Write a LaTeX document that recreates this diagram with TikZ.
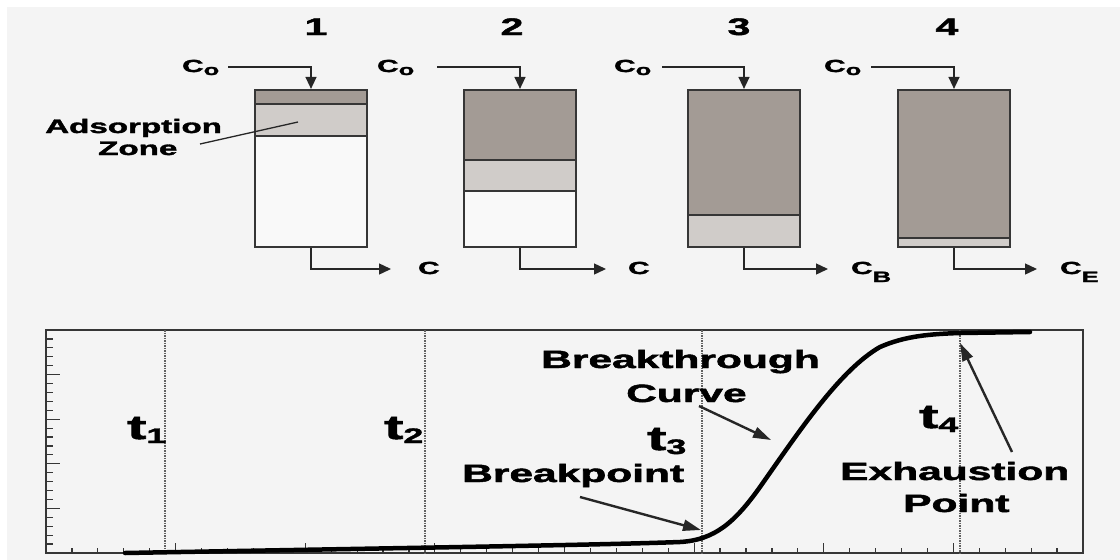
\documentclass[tikz,border=0pt]{standalone}
\usepackage{fontspec}
\setmainfont{Liberation Sans}[BoldFeatures={FakeBold=1.6}]
\usetikzlibrary{arrows.meta}
\definecolor{bgc}{HTML}{F4F4F4}
\definecolor{darkband}{HTML}{A39B95}
\definecolor{lightband}{HTML}{D0CCC9}
\definecolor{boxwhite}{HTML}{F9F9F9}
\definecolor{edge}{HTML}{363636}
\newcommand{\wx}[1]{\scalebox{1.7}[1]{#1}}
\newcommand{\lowsub}[3]{\raisebox{-#1pt}{\fontsize{#2}{#2}\selectfont #3}}
\begin{document}
\begin{tikzpicture}[x=1pt,y=-1pt,
  txt/.style={inner sep=0pt, text=black, anchor=base west},
  numlab/.style={inner sep=0pt, text=black, anchor=base, font=\bfseries\fontsize{24}{26}\selectfont},
  clab/.style={txt, font=\bfseries\fontsize{17.5}{20}\selectfont},
  biglab/.style={txt, font=\bfseries\fontsize{25}{28}\selectfont},
  tlab/.style={txt, font=\bfseries\fontsize{34}{36}\selectfont},
  colbox/.style={draw=edge, line width=2.2pt, inner sep=0pt, minimum width=112pt, minimum height=157pt},
  band/.style={draw=edge, line width=1.7pt},
  feed/.style={draw=black!85, line width=1.4pt, -{Triangle[length=12pt,width=11pt]}},
  pointer/.style={draw=black!85, line width=2.4pt, -{Triangle[length=18pt,width=11pt]}},
  tline/.style={draw=black!62, line width=2pt, dash pattern=on 1.5pt off 1pt},
  frame/.style={draw=edge, line width=1.7pt}]
\useasboundingbox (0,0) rectangle (1120,560);
\fill[white] (0,0) rectangle (1120,560);
\fill[bgc] (7,7) rectangle (1120,560);

% ---------- columns ----------
% column 1
\fill[boxwhite] (255,90) rectangle (367,247);
\fill[darkband] (255,90) rectangle (367,104);
\fill[lightband] (255,104) rectangle (367,136);
\draw[band] (255,104) -- (367,104) (255,136) -- (367,136);
\node[colbox] (col1) at (311,168.5) {};
% column 2
\fill[boxwhite] (464,90) rectangle (576,247);
\fill[darkband] (464,90) rectangle (576,160);
\fill[lightband] (464,160) rectangle (576,191);
\draw[band] (464,160) -- (576,160) (464,191) -- (576,191);
\node[colbox] (col2) at (520,168.5) {};
% column 3
\fill[darkband] (688,90) rectangle (800,215);
\fill[lightband] (688,215) rectangle (800,247);
\draw[band] (688,215) -- (800,215);
\node[colbox] (col3) at (744,168.5) {};
% column 4
\fill[darkband] (898,90) rectangle (1010,238);
\fill[lightband] (898,238) rectangle (1010,247);
\draw[band] (898,238) -- (1010,238);
\node[colbox] (col4) at (954,168.5) {};

% numbers
\node[numlab] (n1) at (316,35) {\wx{1}};
\node[numlab] (n2) at (512,35) {\wx{2}};
\node[numlab] (n3) at (739,35) {\wx{3}};
\node[numlab] (n4) at (947,35) {\wx{4}};

% feed labels and arrows
\node[clab] (co1) at (182,72) {\wx{C\lowsub{3}{15}{o}}};
\node[clab] (co2) at (377,72) {\wx{C\lowsub{3}{15}{o}}};
\node[clab] (co3) at (614,72) {\wx{C\lowsub{3}{15}{o}}};
\node[clab] (co4) at (824,72) {\wx{C\lowsub{3}{15}{o}}};
\coordinate (s1) at (228,67);
\coordinate (s2) at (437,67);
\coordinate (s3) at (662,67);
\coordinate (s4) at (871,67);
\draw[feed] (s1) -| (col1.north);
\draw[feed] (s2) -| (col2.north);
\draw[feed] (s3) -| (col3.north);
\draw[feed] (s4) -| (col4.north);

% outlets
\coordinate (o1) at (391,269);
\coordinate (o2) at (606,269);
\coordinate (o3) at (828,269);
\coordinate (o4) at (1037,269);
\draw[feed] (col1.south) |- (o1);
\draw[feed] (col2.south) |- (o2);
\draw[feed] (col3.south) |- (o3);
\draw[feed] (col4.south) |- (o4);
\node[clab] (c1) at (418,274) {\wx{C}};
\node[clab] (c2) at (628,274) {\wx{C}};
\node[clab] (cb) at (851,274) {\wx{C\lowsub{8}{15}{B}}};
\node[clab] (ce) at (1060,274) {\wx{C\lowsub{8}{15}{E}}};

% adsorption zone label
\node[txt, font=\bfseries\fontsize{19.5}{22}\selectfont] (ads) at (45,133) {\wx{Adsorption}};
\node[txt, font=\bfseries\fontsize{19.5}{22}\selectfont] (zone) at (98,155) {\wx{Zone}};
\coordinate (zs) at (200,144);
\coordinate (zt) at (298,122);
\draw[black!85, line width=1.3pt] (zs) -- (zt);

% ---------- breakthrough plot ----------
\draw[frame] (46,330) rectangle (1083,553);
\foreach \i in {1,...,24}{
  \draw[edge, line width=1.2pt] (46,{330+\i*8.92}) -- ++({ifthenelse(mod(\i,5)==0,14,7)},0);
}
\foreach \i in {1,...,39}{
  \draw[edge, line width=1.2pt] ({46+\i*25.925},553) -- ++(0,{-ifthenelse(mod(\i,5)==0,10,5)});
}
\draw[tline] (165,330) -- (165,553);
\draw[tline] (425,330) -- (425,553);
\draw[tline] (702,330) -- (702,553);
\draw[tline] (960,330) -- (960,553);

\node[tlab] (t1) at (127,439) {\wx{t\lowsub{4}{21}{1}}};
\node[tlab] (t2) at (384,439) {\wx{t\lowsub{4}{21}{2}}};
\node[tlab] (t3) at (647,450) {\wx{t\lowsub{4}{21}{3}}};
\node[tlab] (t4) at (919,428) {\wx{t\lowsub{4}{21}{4}}};

% curve
\draw[black, line width=4.5pt, line cap=round, line join=round]
  (125,553) .. controls (400,548) and (600,545) .. (680,542)
  .. controls (715,540) and (735,522) .. (760,487)
  .. controls (800,430) and (840,370) .. (880,347)
  .. controls (905,336) and (930,334) .. (960,333)
  -- (1030,332);

\node[biglab] (bt) at (541,368) {\wx{Breakthrough}};
\node[biglab] (cv) at (626,402) {\wx{Curve}};
\node[biglab] (bp) at (462,482) {\wx{Breakpoint}};
\node[biglab] (ex) at (840,480) {\wx{Exhaustion}};
\node[biglab] (pt) at (903,512) {\wx{Point}};

\coordinate (cvs) at (699,406);
\coordinate (cvt) at (771,440);
\coordinate (bps) at (580,497);
\coordinate (bpt) at (701,530);
\coordinate (exs) at (1012,452);
\coordinate (ext) at (960,343);
\draw[pointer] (cvs) -- (cvt);
\draw[pointer] (bps) -- (bpt);
\draw[pointer] (exs) -- (ext);
\end{tikzpicture}
\end{document}
